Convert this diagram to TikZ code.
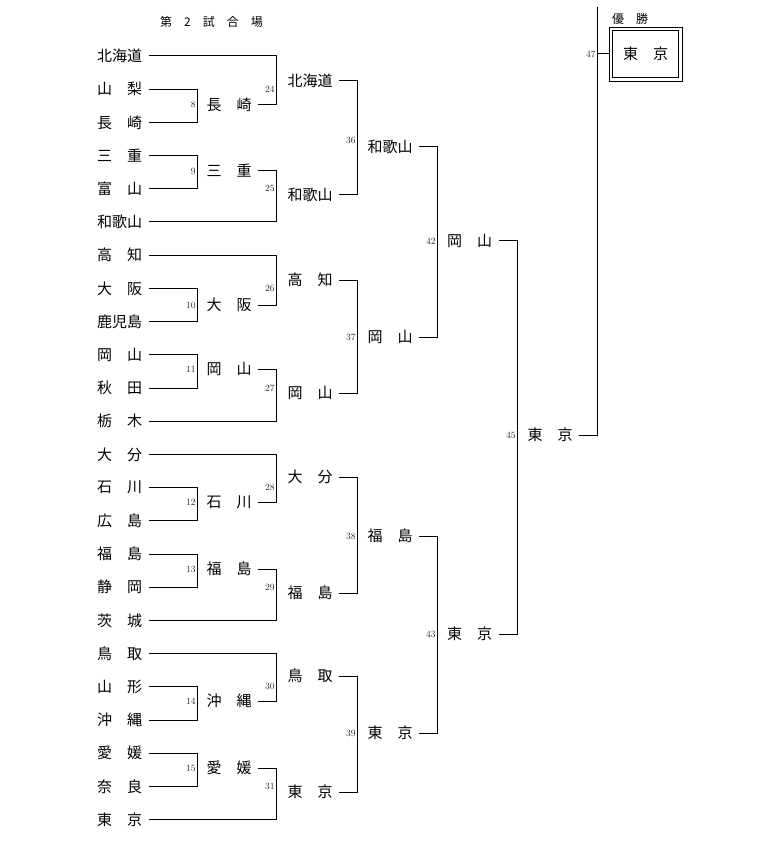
\documentclass[tikz,border=0pt]{standalone}
\usepackage{fontspec}
\newfontfamily\jp{Noto Sans CJK JP}
\usetikzlibrary{positioning}

\begin{document}
\begin{tikzpicture}[
            x=1pt, y=-1pt,
            line width=1pt,
            prefnode/.style={font=\jp\fontsize{15}{15}\selectfont, inner xsep=6pt, inner ysep=2pt},
            matchno/.style={font=\fontsize{9.5}{9.5}\selectfont, text=black!85, inner sep=1pt, anchor=east},
            champbox/.style={draw, line width=0.8pt, minimum width=73pt, minimum height=54pt, font=\jp\fontsize{15}{15}\selectfont},
            champinner/.style={draw, line width=1.4pt, minimum width=66pt, minimum height=47pt},
            ]
            \useasboundingbox (0,0) rectangle (760,858);

            \node[font=\jp\fontsize{12}{12}\selectfont] (title) at (211.5,22) {第\quad 2\quad 試\quad 合\quad 場};

            \coordinate (v1) at (197,0);
            \coordinate (v2) at (276,0);
            \coordinate (v3) at (357,0);
            \coordinate (v4) at (437,0);
            \coordinate (v5) at (517,0);
            \coordinate (v6) at (597,0);
            \coordinate (top) at (597,7);

            \node[prefnode] (p1)  at (119.5,56)    {北海道};
            \node[prefnode] (p2)  at (119.5,89.2)  {山\quad 梨};
            \node[prefnode] (p3)  at (119.5,122.4) {長\quad 崎};
            \node[prefnode] (p4)  at (119.5,155.6) {三\quad 重};
            \node[prefnode] (p5)  at (119.5,188.8) {富\quad 山};
            \node[prefnode] (p6)  at (119.5,222)   {和歌山};
            \node[prefnode] (p7)  at (119.5,255.2) {高\quad 知};
            \node[prefnode] (p8)  at (119.5,288.4) {大\quad 阪};
            \node[prefnode] (p9)  at (119.5,321.6) {鹿児島};
            \node[prefnode] (p10) at (119.5,354.8) {岡\quad 山};
            \node[prefnode] (p11) at (119.5,388)   {秋\quad 田};
            \node[prefnode] (p12) at (119.5,421.2) {栃\quad 木};
            \node[prefnode] (p13) at (119.5,454.4) {大\quad 分};
            \node[prefnode] (p14) at (119.5,487.6) {石\quad 川};
            \node[prefnode] (p15) at (119.5,520.8) {広\quad 島};
            \node[prefnode] (p16) at (119.5,554)   {福\quad 島};
            \node[prefnode] (p17) at (119.5,587.2) {静\quad 岡};
            \node[prefnode] (p18) at (119.5,620.4) {茨\quad 城};
            \node[prefnode] (p19) at (119.5,653.6) {鳥\quad 取};
            \node[prefnode] (p20) at (119.5,686.8) {山\quad 形};
            \node[prefnode] (p21) at (119.5,720)   {沖\quad 縄};
            \node[prefnode] (p22) at (119.5,753.2) {愛\quad 媛};
            \node[prefnode] (p23) at (119.5,786.4) {奈\quad 良};
            \node[prefnode] (p24) at (119.5,819.6) {東\quad 京};

            \node[prefnode] (q8)  at (229,104.5) {長\quad 崎};
            \node[prefnode] (q9)  at (229,171)   {三\quad 重};
            \node[prefnode] (q10) at (229,305)   {大\quad 阪};
            \node[prefnode] (q11) at (229,369)   {岡\quad 山};
            \node[prefnode] (q12) at (229,502)   {石\quad 川};
            \node[prefnode] (q13) at (229,569)   {福\quad 島};
            \node[prefnode] (q14) at (229,701)   {沖\quad 縄};
            \node[prefnode] (q15) at (229,768)   {愛\quad 媛};

            \node[prefnode] (r24) at (310,81)  {北海道};
            \node[prefnode] (r25) at (310,195) {和歌山};
            \node[prefnode] (r26) at (310,280) {高\quad 知};
            \node[prefnode] (r27) at (310,393) {岡\quad 山};
            \node[prefnode] (r28) at (310,477) {大\quad 分};
            \node[prefnode] (r29) at (310,593) {福\quad 島};
            \node[prefnode] (r30) at (310,676) {鳥\quad 取};
            \node[prefnode] (r31) at (310,792) {東\quad 京};

            \node[prefnode] (s36) at (390,147) {和歌山};
            \node[prefnode] (s37) at (390,337) {岡\quad 山};
            \node[prefnode] (s38) at (390,536) {福\quad 島};
            \node[prefnode] (s39) at (390,733) {東\quad 京};

            \node[prefnode] (t42) at (469.5,241) {岡\quad 山};
            \node[prefnode] (t43) at (469.5,634) {東\quad 京};

            \node[prefnode] (u45) at (550,435) {東\quad 京};

            \node[champbox] (champ) at (645.5,54) {東\quad 京};
            \node[champinner] (champin) at (champ.center) {};
            \node[font=\jp\fontsize{12}{12}\selectfont, inner sep=0pt] (yusho) [above right=1.5pt and 3pt of champ.north west] {優\quad 勝};

            \draw (p2.east) -| (p3.east -| v1) -- (p3.east);
            \draw (p4.east) -| (p5.east -| v1) -- (p5.east);
            \draw (p8.east) -| (p9.east -| v1) -- (p9.east);
            \draw (p10.east) -| (p11.east -| v1) -- (p11.east);
            \draw (p14.east) -| (p15.east -| v1) -- (p15.east);
            \draw (p16.east) -| (p17.east -| v1) -- (p17.east);
            \draw (p20.east) -| (p21.east -| v1) -- (p21.east);
            \draw (p22.east) -| (p23.east -| v1) -- (p23.east);

            \draw (p1.east) -| (q8.east -| v2) -- (q8.east);
            \draw (q9.east) -| (p6.east -| v2) -- (p6.east);
            \draw (p7.east) -| (q10.east -| v2) -- (q10.east);
            \draw (q11.east) -| (p12.east -| v2) -- (p12.east);
            \draw (p13.east) -| (q12.east -| v2) -- (q12.east);
            \draw (q13.east) -| (p18.east -| v2) -- (p18.east);
            \draw (p19.east) -| (q14.east -| v2) -- (q14.east);
            \draw (q15.east) -| (p24.east -| v2) -- (p24.east);

            \draw (r24.east) -| (r25.east -| v3) -- (r25.east);
            \draw (r26.east) -| (r27.east -| v3) -- (r27.east);
            \draw (r28.east) -| (r29.east -| v3) -- (r29.east);
            \draw (r30.east) -| (r31.east -| v3) -- (r31.east);

            \draw (s36.east) -| (s37.east -| v4) -- (s37.east);
            \draw (s38.east) -| (s39.east -| v4) -- (s39.east);

            \draw (t42.east) -| (t43.east -| v5) -- (t43.east);

            \draw (u45.east) -| (top);
            \draw (champ.west -| v6) -- (champ.west);

            \node[matchno] (m8)  at (v1 |- q8)  {8};
            \node[matchno] (m9)  at (v1 |- q9)  {9};
            \node[matchno] (m10) at (v1 |- q10) {10};
            \node[matchno] (m11) at (v1 |- q11) {11};
            \node[matchno] (m12) at (v1 |- q12) {12};
            \node[matchno] (m13) at (v1 |- q13) {13};
            \node[matchno] (m14) at (v1 |- q14) {14};
            \node[matchno] (m15) at (v1 |- q15) {15};

            \node[matchno] (m24) at (v2 |- p2)  {24};
            \node[matchno] (m25) at (v2 |- p5)  {25};
            \node[matchno] (m26) at (v2 |- p8)  {26};
            \node[matchno] (m27) at (v2 |- p11) {27};
            \node[matchno] (m28) at (v2 |- p14) {28};
            \node[matchno] (m29) at (v2 |- p17) {29};
            \node[matchno] (m30) at (v2 |- p20) {30};
            \node[matchno] (m31) at (v2 |- p23) {31};

            \node[matchno] (m36) at (357,140)    {36};
            \node[matchno] (m37) at (v3 |- s37) {37};
            \node[matchno] (m38) at (v3 |- s38) {38};
            \node[matchno] (m39) at (v3 |- s39) {39};

            \node[matchno] (m42) at (v4 |- t42) {42};
            \node[matchno] (m43) at (v4 |- t43) {43};
            \node[matchno] (m45) at (v5 |- u45) {45};
            \node[matchno] (m47) at (v6 |- champ) {47};
        \end{tikzpicture}
\end{document}
